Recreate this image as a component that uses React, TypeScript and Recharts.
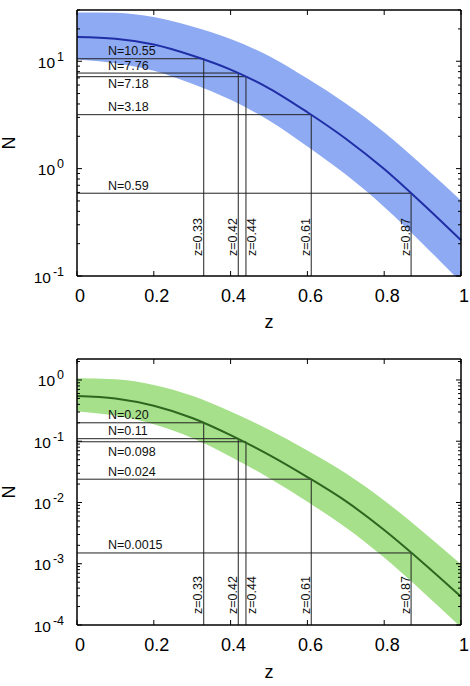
import { ComposedChart, Area, Line, XAxis, YAxis, ReferenceLine } from 'recharts'

const FONT = '"Liberation Sans", Arial, Helvetica, sans-serif'

// model curve sampled in z, with its uncertainty band
const zGrid = [0, 0.1, 0.2, 0.3, 0.4, 0.5, 0.6, 0.7, 0.8, 0.9, 1]

const topMid = [16.8, 16.2, 14.3, 11.3, 8.35, 5.6, 3.35, 1.9, 0.99, 0.47, 0.215]
const topHigh = [28.5, 28.3, 25.8, 21.1, 16.1, 11.2, 6.9, 4.04, 2.18, 1.07, 0.505]
const topLow = [10.4, 9.6, 8.15, 6.17, 4.37, 2.81, 1.61, 0.88, 0.44, 0.2, 0.0875]

const bottomMid = [0.55, 0.5, 0.38, 0.24, 0.126, 0.06, 0.026, 0.0105, 0.00355, 0.00105, 0.00029]
const bottomHigh = [1.07, 1.03, 0.83, 0.552, 0.306, 0.154, 0.0707, 0.0301, 0.0108, 0.00337, 0.00098]
const bottomLow = [0.306, 0.262, 0.189, 0.113, 0.056, 0.0251, 0.0103, 0.0039, 0.00126, 0.00035, 0.0000917]

const markZ = [0.33, 0.42, 0.44, 0.61, 0.87]
const topMarkN = [10.55, 7.76, 7.18, 3.18, 0.59]
const topMarkText = ['10.55', '7.76', '7.18', '3.18', '0.59']
const bottomMarkN = [0.2, 0.11, 0.098, 0.024, 0.0015]
const bottomMarkText = ['0.20', '0.11', '0.098', '0.024', '0.0015']
const markBelow = [false, false, true, false, false]
const markTextRight = [false, false, true, false, false]

const zTicks = [0, 0.2, 0.4, 0.6, 0.8, 1]
const topDecades = [0.1, 1, 10]
const bottomDecades = [0.0001, 0.001, 0.01, 0.1, 1]
const minorSteps = [2, 3, 4, 5, 6, 7, 8, 9]

const fmtZ = (v: number) => (v === 0 || v === 1 ? String(v) : v.toFixed(1))

const isDecade = (v: number) => Math.abs(Math.log10(v) - Math.round(Math.log10(v))) < 1e-6

function BottomTick({ x, y, payload }: any) {
  return (
    <g>
      <line x1={x} y1={y} x2={x} y2={y - 5} stroke="#000" />
      <text x={x + 3} y={y + 26} textAnchor="middle" fontSize={18} fill="#000">
        {fmtZ(payload.value)}
      </text>
    </g>
  )
}

function TopTick({ x, y }: any) {
  return <line x1={x} y1={y} x2={x} y2={y + 5} stroke="#000" />
}

function LeftTick({ x, y, payload }: any) {
  const major = isDecade(payload.value)
  const exp = Math.round(Math.log10(payload.value))
  return (
    <g>
      <line x1={x} y1={y} x2={x + (major ? 5 : 3)} y2={y} stroke="#000" />
      {major && (
        <text x={x - 13} y={y + 6.5} textAnchor="end" fontSize={15.5} fill="#000">
          <tspan>10</tspan>
          <tspan dx={2} dy={-7} fontSize={12.5}>{exp}</tspan>
        </text>
      )}
    </g>
  )
}

function RightTick({ x, y, payload }: any) {
  const major = isDecade(payload.value)
  return <line x1={x} y1={y} x2={x - (major ? 5 : 3)} y2={y} stroke="#000" />
}

interface PanelProps {
  mid: number[]
  high: number[]
  low: number[]
  markN: number[]
  markText: string[]
  decades: number[]
  domain: [number, number]
  fill: string
  stroke: string
  height: number
  topH: number
  bottomH: number
  zTitleOffset: number
  belowOffset: number
  vLift: number
}

function Panel(p: PanelProps) {
  const data = zGrid.map((z, i) => ({ z, mid: p.mid[i], band: [p.low[i], p.high[i]] }))
  const yTicks = p.decades.flatMap(d => [d, ...minorSteps.map(m => d * m)]).filter(v => v <= p.domain[1])
  const axisLine = { stroke: '#000', strokeWidth: 1.5 }

  return (
    <ComposedChart width={470} height={p.height} data={data} margin={{ top: 0, right: 0, left: 17, bottom: 0 }}>
      <XAxis
        dataKey="z"
        type="number"
        domain={[0, 1]}
        ticks={zTicks}
        interval={0}
        tickSize={0}
        tickMargin={0}
        tickLine={false}
        axisLine={axisLine}
        height={p.bottomH}
        tick={<BottomTick />}
        label={{
          content: ({ viewBox }: any) => (
            <text x={viewBox.x + viewBox.width / 2} y={viewBox.y + viewBox.height - p.zTitleOffset} textAnchor="middle" fontSize={18} fill="#000">
              z
            </text>
          ),
        }}
      />
      <XAxis
        xAxisId="top"
        orientation="top"
        dataKey="z"
        type="number"
        domain={[0, 1]}
        ticks={zTicks}
        interval={0}
        tickSize={0}
        tickMargin={0}
        tickLine={false}
        axisLine={axisLine}
        height={p.topH}
        tick={<TopTick />}
      />
      <YAxis
        scale="log"
        domain={p.domain}
        allowDataOverflow
        ticks={yTicks}
        interval={0}
        tickSize={0}
        tickMargin={0}
        tickLine={false}
        axisLine={axisLine}
        width={60}
        tick={<LeftTick />}
        label={{
          content: ({ viewBox }: any) => {
            const cx = 9
            const cy = viewBox.y + viewBox.height / 2
            return (
              <text x={cx} y={cy} transform={`rotate(-90 ${cx} ${cy})`} textAnchor="middle" dominantBaseline="central" fontSize={18} fill="#000">
                N
              </text>
            )
          },
        }}
      />
      <YAxis
        yAxisId="right"
        orientation="right"
        scale="log"
        domain={p.domain}
        allowDataOverflow
        ticks={yTicks}
        interval={0}
        tickSize={0}
        tickMargin={0}
        tickLine={false}
        axisLine={axisLine}
        width={9}
        tick={<RightTick />}
      />
      <Area dataKey="band" type="monotone" stroke="none" fill={p.fill} fillOpacity={1} isAnimationActive={false} />
      {markZ.map((z, i) => (
        <ReferenceLine
          key={`h${i}`}
          segment={[{ x: 0, y: p.markN[i] }, { x: z, y: p.markN[i] }]}
          stroke="#222"
          strokeWidth={1}
          label={{
            content: ({ viewBox }: any) => (
              <text
                x={viewBox.x + 31}
                y={markBelow[i] ? viewBox.y + p.belowOffset : viewBox.y - 3.5}
                fontSize={12.5}
                fill="#111"
              >
                {`N=${p.markText[i]}`}
              </text>
            ),
          }}
        />
      ))}
      {markZ.map((z, i) => (
        <ReferenceLine
          key={`v${i}`}
          segment={[{ x: z, y: p.markN[i] }, { x: z, y: p.domain[0] }]}
          stroke="#222"
          strokeWidth={1}
          label={{
            content: ({ viewBox }: any) => {
              // rotated text: its baseline sits on the right-hand side
              const tx = markTextRight[i] ? viewBox.x + 10.5 : viewBox.x - 1.5
              const ty = viewBox.y + viewBox.height - p.vLift
              return (
                <text x={tx} y={ty} transform={`rotate(-90 ${tx} ${ty})`} fontSize={12.5} fill="#111">
                  {`z=${z}`}
                </text>
              )
            },
          }}
        />
      ))}
      <Line dataKey="mid" type="monotone" stroke={p.stroke} strokeWidth={2} dot={false} isAnimationActive={false} />
    </ComposedChart>
  )
}

export default function App() {
  return (
    <div style={{ position: 'absolute', left: 0, top: 0, width: 470, height: 686, background: '#fff', fontFamily: FONT }}>
      <Panel
        mid={topMid}
        high={topHigh}
        low={topLow}
        markN={topMarkN}
        markText={topMarkText}
        decades={topDecades}
        domain={[0.1, 30]}
        fill="#8eaaf2"
        stroke="#1f2ea6"
        height={340}
        topH={10}
        bottomH={64}
        zTitleOffset={12}
        belowOffset={11}
        vLift={20}
      />
      <Panel
        mid={bottomMid}
        high={bottomHigh}
        low={bottomLow}
        markN={bottomMarkN}
        markText={bottomMarkText}
        decades={bottomDecades}
        domain={[0.0001, 2.2]}
        fill="#a6e08a"
        stroke="#2d661f"
        height={346}
        topH={19}
        bottomH={61}
        zTitleOffset={8}
        belowOffset={14}
        vLift={11}
      />
    </div>
  )
}
